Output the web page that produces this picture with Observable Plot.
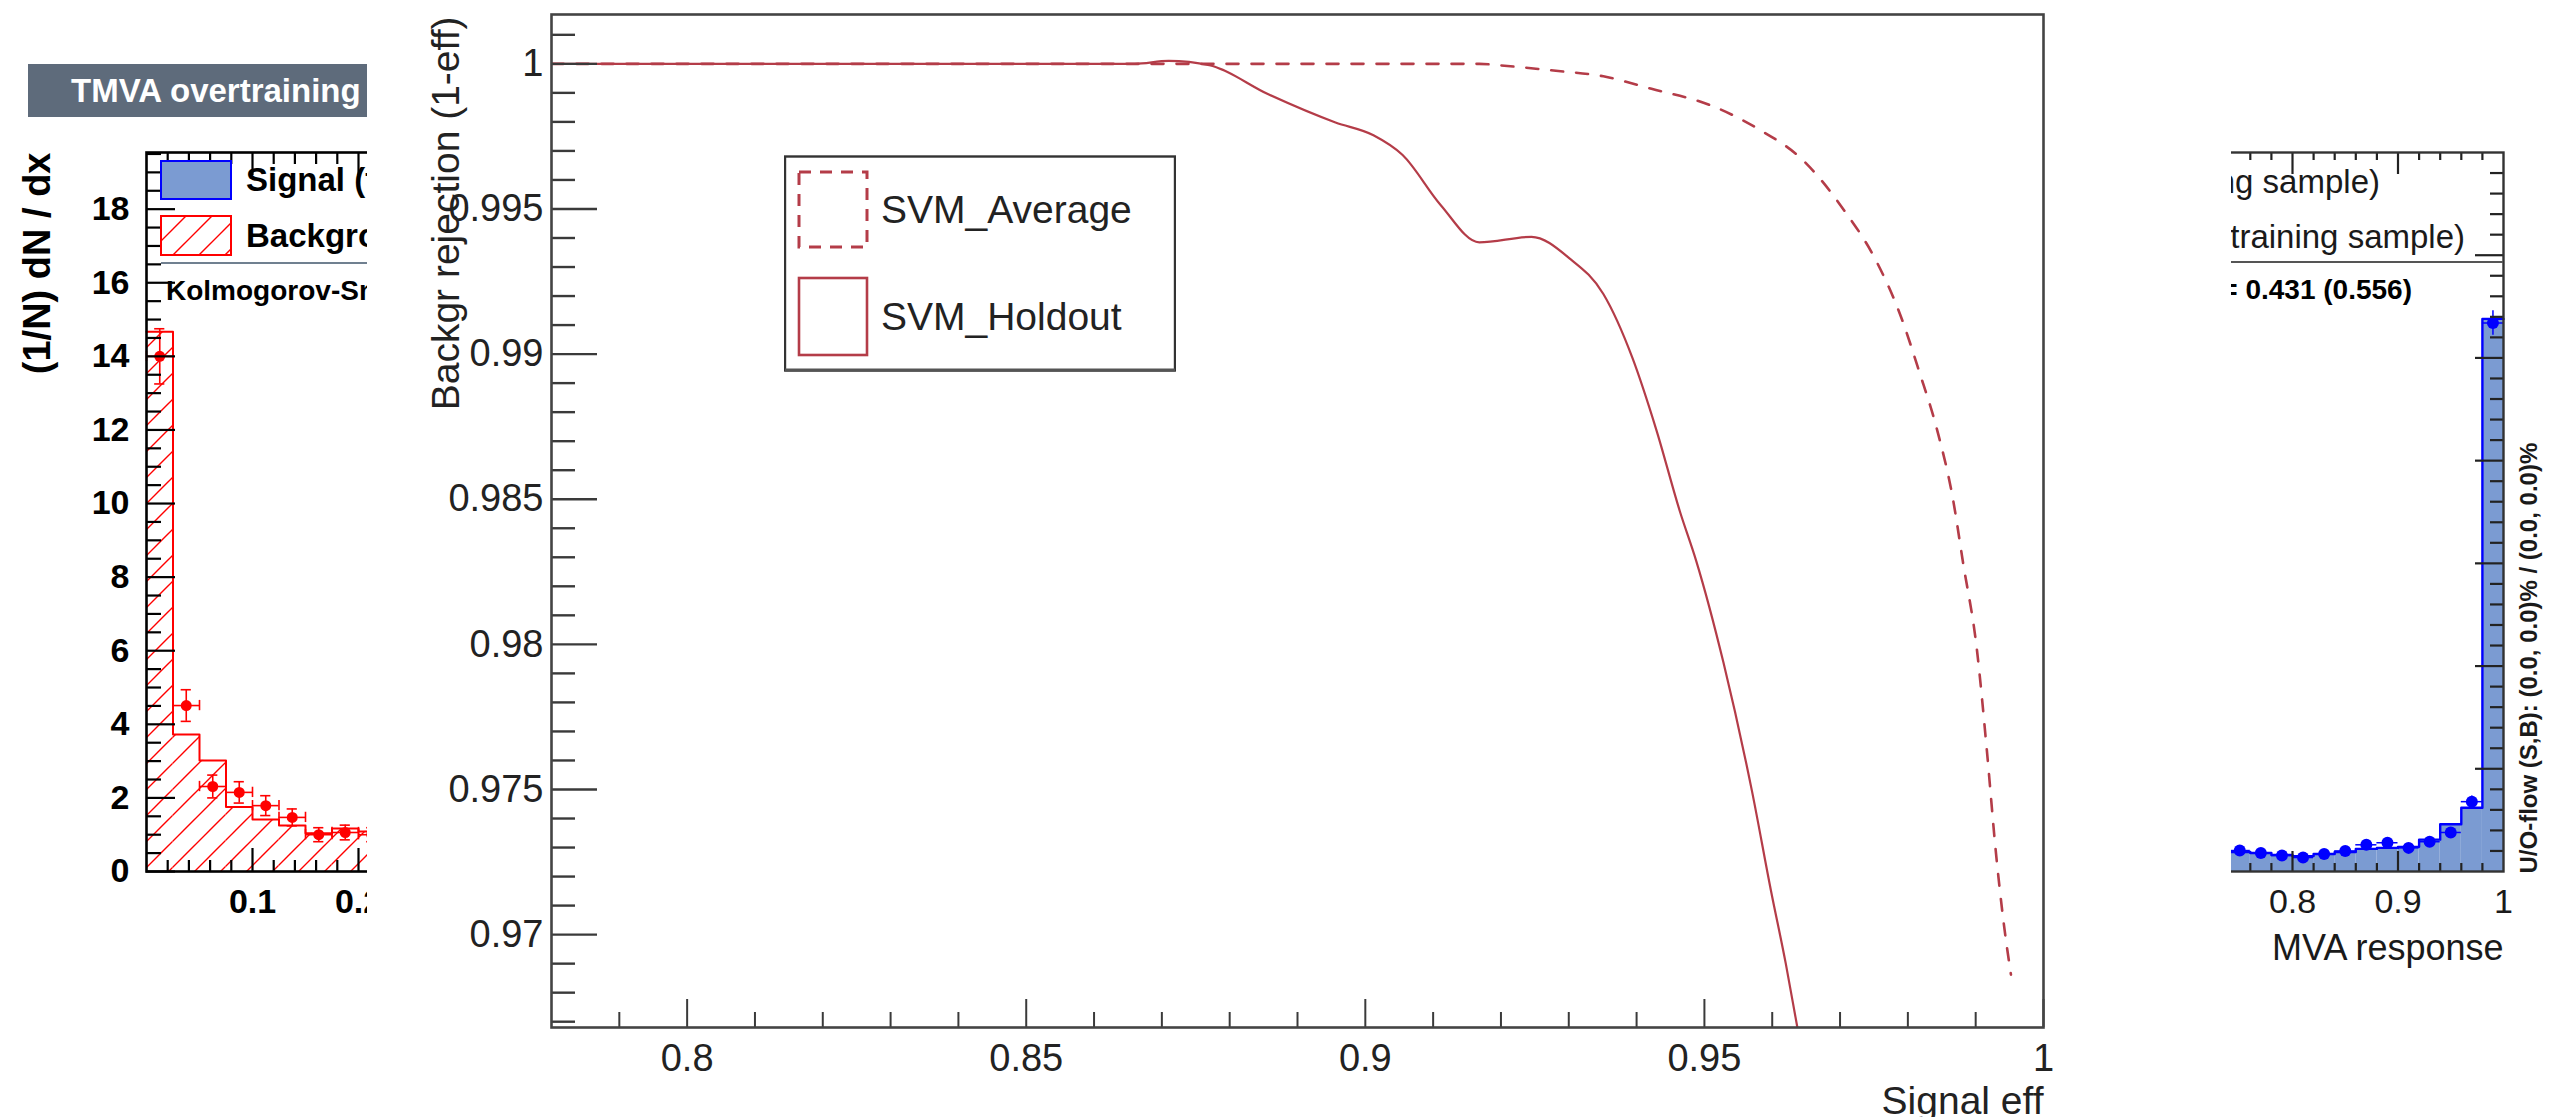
<!DOCTYPE html>
<html><head><meta charset="utf-8">
<script src="https://cdn.jsdelivr.net/npm/d3@7"></script>
<script src="https://cdn.jsdelivr.net/npm/@observablehq/plot@0.6"></script>
<style>
html,body{margin:0;padding:0;background:#fff;}
#stage{position:relative;width:2564px;height:1117px;overflow:hidden;font-family:"Liberation Sans",Arial,Helvetica,sans-serif;}
#stage svg{max-width:none;}
.t{position:absolute;white-space:nowrap;line-height:1;}
</style></head><body>
<svg width="0" height="0" style="position:absolute"><defs>
<pattern id="hatch" patternUnits="userSpaceOnUse" width="26" height="26"><path d="M-3,3 L3,-3 M0,26 L26,0 M23,29 L29,23" stroke="#ff0000" stroke-width="1.4" fill="none"/></pattern>
</defs></svg>
<div id="stage"></div>
<script>
// ---------------- ROC curve data (main chart) ----------------
const rocAverageEff = [0.78, 0.9168, 0.9197, 0.9281, 0.9351, 0.9422, 0.9507, 0.9577, 0.9648, 0.9704, 0.9754, 0.9789, 0.9817, 0.9843, 0.9867, 0.9881, 0.9902, 0.9916, 0.9930, 0.9940, 0.9952];
const rocAverageRej = [1.0, 1.0, 0.99995, 0.99976, 0.99957, 0.99914, 0.99859, 0.99779, 0.99662, 0.99502, 0.99318, 0.99134, 0.98938, 0.98740, 0.98494, 0.98287, 0.97978, 0.97647, 0.97279, 0.97065, 0.96862];
const rocHoldoutEff = [0.78, 0.866, 0.871, 0.877, 0.8857, 0.8956, 0.9012, 0.9055, 0.9111, 0.9168, 0.9245, 0.9301, 0.9351, 0.9394, 0.9429, 0.9464, 0.9488, 0.9528, 0.9570, 0.9598, 0.9620, 0.9637, 0.9645];
const rocHoldoutRej = [1.0, 1.0, 1.0001, 0.99995, 0.99895, 0.99798, 0.99754, 0.99686, 0.99514, 0.99385, 0.99404, 0.99330, 0.99207, 0.98986, 0.98740, 0.98457, 0.98287, 0.97938, 0.97496, 0.97153, 0.96900, 0.96681, 0.9658];
const rocSeriesNames = ["SVM_Average", "SVM_Holdout"];
const rocXTicks = [0.8, 0.85, 0.9, 0.95, 1];
const rocYTicks = [0.97, 0.975, 0.98, 0.985, 0.99, 0.995, 1];
const rocXTitle = "Signal eff";
const rocYTitle = "Backgr rejection (1-eff)";

// ---------------- background: TMVA overtraining check (left fragment) ----------------
const bkgBinLow = [0, 0.025, 0.05, 0.075, 0.1, 0.125, 0.15, 0.175, 0.2, 0.225, 0.25];
const bkgTestVal = [14.67, 3.72, 3.02, 1.75, 1.41, 1.25, 1.04, 1.17, 1.09, 1.0, 0.95];
const bkgTrainVal = [14.0, 4.51, 2.31, 2.15, 1.79, 1.47, 1.0, 1.06, 1.0, 0.95, 0.9];
const bkgTrainErr = [0.75, 0.43, 0.31, 0.29, 0.27, 0.23, 0.19, 0.2, 0.19, 0.19, 0.18];
const leftYTicks = [0, 2, 4, 6, 8, 10, 12, 14, 16, 18];
const leftXTicks = [0.1, 0.2, 0.3, 0.4, 0.5, 0.6, 0.7, 0.8, 0.9];
const leftYTitle = "(1/N) dN / dx";
const titleText = "TMVA overtraining check for classifier: SVM_Holdout";
const legendTest = ["Signal (test sample)", "Background (test sample)"];
const legendTrain = ["Signal (training sample)", "Background (training sample)"];
const ksText = "Kolmogorov-Smirnov test: signal (background) probability = 0.431 (0.556)";

// ---------------- background: right fragment (signal peak) ----------------
const sigBinLow = [0.70, 0.72, 0.74, 0.76, 0.78, 0.80, 0.82, 0.84, 0.86, 0.88, 0.90, 0.92, 0.94, 0.96, 0.98];
const sigTestVal = [1.0, 0.95, 0.95, 0.9, 0.8, 0.75, 0.85, 0.95, 1.1, 1.15, 1.2, 1.55, 2.3, 3.1, 26.9];
const sigTrainVal = [1.05, 1.0, 1.02, 0.9, 0.78, 0.68, 0.85, 1.0, 1.3, 1.4, 1.15, 1.45, 1.9, 3.4, 26.7];
const sigTrainErr = [0.15, 0.15, 0.15, 0.14, 0.13, 0.13, 0.14, 0.15, 0.17, 0.18, 0.16, 0.18, 0.2, 0.28, 0.6];
const rightXTicks = [0.8, 0.9, 1];
const rightXTitle = "MVA response";
const rightYTitle = "U/O-flow (S,B): (0.0, 0.0)% / (0.0, 0.0)%";

const FONT = '"Liberation Sans", Arial, Helvetica, sans-serif';
const RED = "#b43c48";
const stage = document.getElementById("stage");
function place(el, left, top, z) {
  el.style.position = "absolute"; el.style.left = left + "px"; el.style.top = top + "px"; el.style.zIndex = z;
  stage.appendChild(el); return el;
}
function text(str, left, top, css, z) {
  const d = document.createElement("div"); d.className = "t"; d.textContent = str;
  Object.assign(d.style, css); place(d, left, top, z); return d;
}
function steps(lows, vals, w) {
  const p = lows.map((l, i) => ({x: l, y: vals[i]}));
  p.push({x: lows[lows.length - 1] + w, y: vals[vals.length - 1]});
  return p;
}
const fmt = d => String(+(+d).toFixed(4));

// ================= LEFT BACKGROUND PLOT =================
{
  const fw = 1060, fh = 719, bw = 0.025;
  const bins = bkgBinLow.map((l, i) => ({lo: l, hi: l + bw, v: bkgTestVal[i]}));
  const pts = bkgBinLow.map((l, i) => ({c: l + bw / 2, v: bkgTrainVal[i], e: bkgTrainErr[i]}));
  const yMinor = d3.range(1, 40).map(i => i * 0.5).filter(v => v % 2 !== 0);
  const xMinor = d3.range(1, 50).map(i => i * 0.02).filter(v => Math.abs(v * 10 - Math.round(v * 10)) > 1e-6);
  const xMajor = d3.range(1, 10).map(i => i / 10);
  const capX = 0.0048, capY = 0.14;
  const svg = Plot.plot({
    width: 1300, height: 1117, marginLeft: 146, marginRight: 94, marginTop: 152, marginBottom: 246,
    x: {domain: [0, 1]}, y: {domain: [0, 19.54]},
    style: {fontFamily: FONT, fontSize: "34px", fontWeight: "bold", color: "#000", background: "transparent", maxWidth: "none"},
    marks: [
      Plot.rectY(bins, {x1: "lo", x2: "hi", y: "v", fill: "url(#hatch)"}),
      Plot.line(steps(bkgBinLow, bkgTestVal, bw), {x: "x", y: "y", curve: "step-after", stroke: "#ff0000", strokeWidth: 2}),
      Plot.ruleX(pts, {x: "c", y1: d => d.v - d.e, y2: d => d.v + d.e, stroke: "#ff0000", strokeWidth: 1.6}),
      Plot.ruleY(pts, {y: "v", x1: d => d.c - bw / 2, x2: d => d.c + bw / 2, stroke: "#ff0000", strokeWidth: 1.6}),
      Plot.ruleY(pts, {y: d => d.v + d.e, x1: d => d.c - capX, x2: d => d.c + capX, stroke: "#ff0000", strokeWidth: 1.6}),
      Plot.ruleY(pts, {y: d => d.v - d.e, x1: d => d.c - capX, x2: d => d.c + capX, stroke: "#ff0000", strokeWidth: 1.6}),
      Plot.ruleX(pts, {x: d => d.c - bw / 2, y1: d => d.v - capY, y2: d => d.v + capY, stroke: "#ff0000", strokeWidth: 1.6}),
      Plot.ruleX(pts, {x: d => d.c + bw / 2, y1: d => d.v - capY, y2: d => d.v + capY, stroke: "#ff0000", strokeWidth: 1.6}),
      Plot.dot(pts, {x: "c", y: "v", r: 5.5, fill: "#ff0000"}),
      Plot.tickY(leftYTicks, {y: d => d, insetRight: fw - 29, stroke: "#000", strokeWidth: 2.2}),
      Plot.tickY(yMinor, {y: d => d, insetRight: fw - 15, stroke: "#000", strokeWidth: 2.2}),
      Plot.tickX(xMajor, {x: d => d, insetTop: fh - 23, stroke: "#000", strokeWidth: 2.2}),
      Plot.tickX(xMinor, {x: d => d, insetTop: fh - 11, stroke: "#000", strokeWidth: 2.2}),
      Plot.tickX(xMajor, {x: d => d, insetBottom: fh - 23, stroke: "#000", strokeWidth: 2.2}),
      Plot.tickX(xMinor, {x: d => d, insetBottom: fh - 12, stroke: "#000", strokeWidth: 2.2}),
      Plot.frame({stroke: "#000", strokeWidth: 2.6}),
      Plot.axisY({ticks: leftYTicks, tickSize: 0, tickPadding: 17, label: null, tickFormat: fmt}),
      Plot.axisX({ticks: leftXTicks, tickSize: 0, tickPadding: 17, label: null, tickFormat: fmt}),
      Plot.text([leftYTitle], {frameAnchor: "top-left", rotate: -90, textAnchor: "end", lineAnchor: "middle", dx: -109, fontSize: 38, fontWeight: "bold"})
    ]
  });
  place(svg, 0, 0, 1);
}
// title bar + left legend
{
  const bar = document.createElement("div");
  Object.assign(bar.style, {width: "1150px", height: "53px", background: "#5e6b7b", color: "#fff", fontWeight: "bold", fontSize: "33px", lineHeight: "53px", paddingLeft: "43px", boxSizing: "border-box", whiteSpace: "nowrap", fontFamily: FONT});
  bar.textContent = titleText;
  place(bar, 28, 64, 2);
  const ns = "http://www.w3.org/2000/svg";
  const lg = document.createElementNS(ns, "svg");
  lg.setAttribute("width", 1100); lg.setAttribute("height", 160);
  lg.innerHTML = `<rect x="15" y="9" width="70" height="38" fill="#7b9bd2" stroke="#0000ff" stroke-width="2"/>
    <rect x="15" y="64" width="70" height="39" fill="url(#hatch)" stroke="#ff0000" stroke-width="2"/>
    <line x1="15" y1="111" x2="1060" y2="111" stroke="#708090" stroke-width="2"/>`;
  place(lg, 146, 152, 2);
  text(legendTest[0], 246, 163, {fontSize: "33px", fontWeight: "bold", color: "#000"}, 2);
  text(legendTest[1], 246, 219, {fontSize: "33px", fontWeight: "bold", color: "#000"}, 2);
  text(ksText, 166, 277, {fontSize: "28px", fontWeight: "bold", color: "#000"}, 2);
}

// ================= RIGHT BACKGROUND PLOT =================
{
  const fw = 1055, fh = 719, bw = 0.02;
  const bins = sigBinLow.map((l, i) => ({lo: l, hi: l + bw, v: sigTestVal[i]}));
  const pts = sigBinLow.map((l, i) => ({c: l + bw / 2, v: sigTrainVal[i], e: sigTrainErr[i]}));
  const yMajor = [5, 10, 15, 20, 25, 30];
  const yMinor = d3.range(1, 35).filter(v => v % 5 !== 0);
  const xMajor = d3.range(1, 10).map(i => i / 10);
  const xMinor = d3.range(1, 50).map(i => i * 0.02).filter(v => Math.abs(v * 10 - Math.round(v * 10)) > 1e-6);
  const BLUE = "#0000ff";
  const svg = Plot.plot({
    width: 1264, height: 1117, marginLeft: 148, marginRight: 61, marginTop: 152, marginBottom: 246,
    x: {domain: [0, 1]}, y: {domain: [0, 35]},
    style: {fontFamily: FONT, fontSize: "34px", color: "#1a1a1a", background: "transparent", maxWidth: "none"},
    marks: [
      Plot.rectY(bins, {x1: "lo", x2: "hi", y: "v", fill: "#7b9bd2"}),
      Plot.line(steps(sigBinLow, sigTestVal, bw), {x: "x", y: "y", curve: "step-after", stroke: BLUE, strokeWidth: 2.4}),
      Plot.ruleX(pts, {x: "c", y1: d => d.v - d.e, y2: d => d.v + d.e, stroke: BLUE, strokeWidth: 1.5}),
      Plot.ruleY(pts, {y: "v", x1: d => d.c - bw / 2, x2: d => d.c + bw / 2, stroke: BLUE, strokeWidth: 1.5}),
      Plot.dot(pts, {x: "c", y: "v", r: 6, fill: BLUE}),
      Plot.tickY(yMajor, {y: d => d, insetLeft: fw - 28, stroke: "#222", strokeWidth: 2.2}),
      Plot.tickY(yMinor, {y: d => d, insetLeft: fw - 13, stroke: "#222", strokeWidth: 2.2}),
      Plot.tickX(xMajor, {x: d => d, insetTop: fh - 20, stroke: "#222", strokeWidth: 2.2}),
      Plot.tickX(xMinor, {x: d => d, insetTop: fh - 8, stroke: "#222", strokeWidth: 2.2}),
      Plot.tickX(xMajor, {x: d => d, insetBottom: fh - 22, stroke: "#222", strokeWidth: 2.2}),
      Plot.tickX(xMinor, {x: d => d, insetBottom: fh - 8, stroke: "#222", strokeWidth: 2.2}),
      Plot.frame({stroke: "#333", strokeWidth: 2.4}),
      Plot.axisX({ticks: rightXTicks, tickSize: 0, tickPadding: 17, label: null, tickFormat: fmt}),
      Plot.text([rightXTitle], {frameAnchor: "bottom-right", textAnchor: "end", lineAnchor: "middle", dy: 77, fontSize: 36}),
      Plot.text([rightYTitle], {frameAnchor: "bottom-right", rotate: -90, textAnchor: "start", lineAnchor: "middle", dx: 26, dy: 2, fontSize: 24, fontWeight: "bold"})
    ]
  });
  place(svg, 1300, 0, 1);
  const ns = "http://www.w3.org/2000/svg";
  const ln = document.createElementNS(ns, "svg");
  ln.setAttribute("width", 1100); ln.setAttribute("height", 10);
  ln.innerHTML = `<line x1="0" y1="5" x2="1055" y2="5" stroke="#555" stroke-width="2.2"/>`;
  place(ln, 1448, 257, 2);
  text(legendTrain[0], 0, 165, {fontSize: "33px", color: "#1a1a1a", right: (2564 - 2380) + "px", left: "auto"}, 2).style.left = "auto";
  text(legendTrain[1], 0, 220, {fontSize: "33px", color: "#1a1a1a", right: (2564 - 2465) + "px"}, 2).style.left = "auto";
  text(ksText, 0, 276, {fontSize: "28px", fontWeight: "bold", color: "#000", right: (2564 - 2412) + "px"}, 2).style.left = "auto";
}

// ================= MAIN ROC PLOT =================
{
  const fw = 1492, fh = 1013;
  const average = rocAverageEff.map((x, i) => ({x, y: rocAverageRej[i], s: rocSeriesNames[0]}));
  const holdout = rocHoldoutEff.map((x, i) => ({x, y: rocHoldoutRej[i], s: rocSeriesNames[1]}));
  const xMinor = d3.range(79, 100).filter(i => i % 5 !== 0).map(i => i / 100);
  const yMinor = d3.range(967, 1002).filter(i => i % 5 !== 0).map(i => i / 1000);
  const TK = "#3a3a3a";
  const svg = Plot.plot({
    width: 1864, height: 1117, marginLeft: 184, marginRight: 188, marginTop: 14, marginBottom: 90,
    x: {domain: [0.78, 1.0]}, y: {domain: [0.9668, 1.0017]},
    style: {fontFamily: FONT, fontSize: "38px", color: "#222", background: "#fff", maxWidth: "none"},
    marks: [
      Plot.line(average, {x: "x", y: "y", stroke: RED, strokeWidth: 2.6, strokeDasharray: "12,13", curve: "monotone-x", clip: true}),
      Plot.line(holdout, {x: "x", y: "y", stroke: RED, strokeWidth: 2.2, curve: "monotone-x", clip: true}),
      Plot.tickX(rocXTicks, {x: d => d, insetTop: fh - 28, stroke: TK, strokeWidth: 2}),
      Plot.tickX(xMinor, {x: d => d, insetTop: fh - 15, stroke: TK, strokeWidth: 2}),
      Plot.tickY(rocYTicks, {y: d => d, insetRight: fw - 46, stroke: TK, strokeWidth: 2.4}),
      Plot.tickY(yMinor, {y: d => d, insetRight: fw - 24, stroke: TK, strokeWidth: 2.4}),
      Plot.frame({stroke: "#444", strokeWidth: 2.6}),
      Plot.axisX({ticks: rocXTicks, tickSize: 0, tickPadding: 17, label: null, tickFormat: fmt}),
      Plot.axisY({ticks: rocYTicks, tickSize: 0, tickPadding: 8, label: null, tickFormat: fmt}),
      Plot.text([rocYTitle], {frameAnchor: "top-left", rotate: -90, textAnchor: "end", lineAnchor: "middle", dx: -105, dy: 2, fontSize: 39}),
      Plot.text([rocXTitle], {frameAnchor: "bottom-right", textAnchor: "end", lineAnchor: "middle", dy: 74, fontSize: 39})
    ]
  });
  place(svg, 367, 0, 5);
  // legend
  const ns = "http://www.w3.org/2000/svg";
  const lg = document.createElementNS(ns, "svg");
  lg.setAttribute("width", 392); lg.setAttribute("height", 218);
  lg.innerHTML = `<rect x="1" y="1.5" width="390" height="214" fill="#fff" stroke="#333" stroke-width="2.4"/>
    <line x1="1" y1="215" x2="391" y2="215" stroke="#555" stroke-width="3"/>
    <rect x="15" y="17" width="68" height="75" fill="none" stroke="${RED}" stroke-width="3" stroke-dasharray="12,9"/>
    <rect x="15" y="123" width="68" height="77" fill="none" stroke="${RED}" stroke-width="2.6"/>
    <text x="97" y="54" dy="0.35em" font-family='${FONT}' font-size="39" fill="#222">${rocSeriesNames[0]}</text>
    <text x="97" y="161" dy="0.35em" font-family='${FONT}' font-size="39" fill="#222">${rocSeriesNames[1]}</text>`;
  place(lg, 784, 155, 6);
}
</script>
</body></html>
